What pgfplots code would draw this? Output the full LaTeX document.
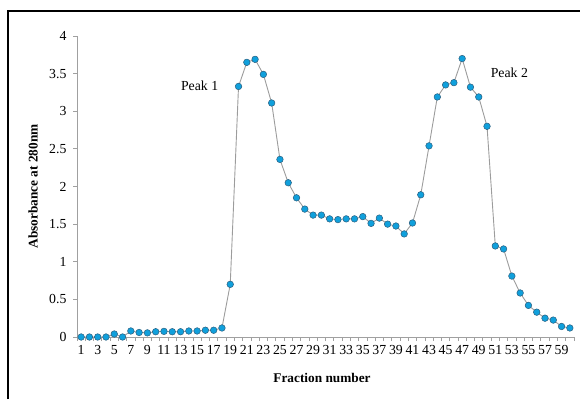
\documentclass[border=0pt]{standalone}
\usepackage{fontspec}
\setmainfont{Liberation Serif}
\usepackage{pgfplots}
\pgfplotsset{compat=1.18}
\definecolor{markfill}{HTML}{10A0DC}
\definecolor{markdraw}{HTML}{2B5E7E}
\definecolor{linegray}{HTML}{9C9C9C}
\definecolor{axisgray}{HTML}{A0A0A0}
\begin{document}
\begin{tikzpicture}
\useasboundingbox (0,0) rectangle (580pt,399pt);
\draw[line width=2pt, black] (8pt,0) -- (8pt,388pt) -- (581pt,388pt);
\begin{axis}[
  at={(77pt,62pt)}, anchor=south west,
  scale only axis, width=497pt, height=301pt,
  xmin=0.5, xmax=60.5, ymin=0, ymax=4,
  axis x line=bottom, axis y line=left,
  axis line style={axisgray, -, line width=0.8pt},
  xtick={1,3,...,59},
  minor xtick={0.5,1.5,...,60.5},
  ytick={0,0.5,...,4},
  yticklabels={0,0.5,1,1.5,2,2.5,3,3.5,4},
  tick align=outside,
  tick style={axisgray, line width=0.8pt},
  major tick length=4pt, minor tick length=4pt,
  major x tick style={draw=none},
  ticklabel style={font=\fontsize{13.8}{15}\selectfont},
  /pgf/number format/assume math mode=true,
  xticklabel style={yshift=-1pt},
  yticklabel style={xshift=-3pt},
  xlabel={\textbf{Fraction number}},
  ylabel={\textbf{Absorbance at 280nm}},
  label style={font=\fontsize{13.3}{15}\selectfont},
  xlabel style={at={(axis description cs:0.493,-0.136)}, anchor=center},
  ylabel style={at={(axis description cs:-0.0885,0.5)}, anchor=center},
  clip=false,
]
\addplot[color=linegray, line width=0.9pt, mark=*, mark size=3.3pt,
  mark options={fill=markfill, draw=markdraw, line width=0.5pt}]
coordinates {
(1,0) (2,0) (3,0) (4,0) (5,0.04) (6,0) (7,0.08) (8,0.06) (9,0.055) (10,0.07)
(11,0.075) (12,0.07) (13,0.07) (14,0.08) (15,0.08) (16,0.09) (17,0.09) (18,0.12) (19,0.70) (20,3.33)
(21,3.65) (22,3.69) (23,3.49) (24,3.11) (25,2.36) (26,2.05) (27,1.85) (28,1.70) (29,1.62) (30,1.62)
(31,1.57) (32,1.56) (33,1.57) (34,1.57) (35,1.60) (36,1.51) (37,1.58) (38,1.50) (39,1.475) (40,1.37)
(41,1.515) (42,1.89) (43,2.54) (44,3.19) (45,3.35) (46,3.38) (47,3.70) (48,3.32) (49,3.19) (50,2.80)
(51,1.21) (52,1.17) (53,0.81) (54,0.585) (55,0.42) (56,0.33) (57,0.25) (58,0.225) (59,0.14) (60,0.12)
};
\node[font=\fontsize{13.8}{15}\selectfont] at (axis cs:15.3,3.34) {Peak 1};
\node[font=\fontsize{13.8}{15}\selectfont] at (axis cs:52.7,3.51) {Peak 2};
\end{axis}
\end{tikzpicture}
\end{document}
